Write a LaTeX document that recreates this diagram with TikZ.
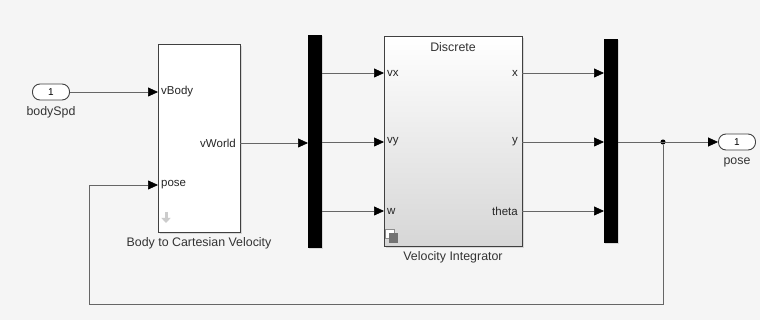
\documentclass[tikz,border=0pt]{standalone}
\usepackage{fontspec}
\setmainfont{Liberation Sans}
\usetikzlibrary{arrows.meta,positioning,shadows}

\begin{document}
\begin{tikzpicture}[x=1pt,y=-1pt,
    sig/.style={draw=black!60,line width=0.7pt,-{Triangle[length=10pt,width=9pt,fill=black,color=black]}},
    blk/.style={draw=black!75,line width=0.9pt,fill=white,anchor=north west,inner sep=0pt,
        drop shadow={shadow xshift=1.2pt,shadow yshift=-1.2pt,opacity=0.25}},
    bar/.style={fill=black,anchor=north west,inner sep=0pt,minimum width=14pt,minimum height=213pt,
        drop shadow={shadow xshift=1pt,shadow yshift=-1pt,opacity=0.25}},
    port/.style={draw=black!75,line width=0.9pt,fill=white,rounded corners=7.5pt,minimum width=37pt,
        minimum height=16pt,inner sep=0pt,font=\fontsize{10}{11}\selectfont},
    pin/.style={anchor=west,inner sep=3pt,font=\fontsize{11.5}{12}\selectfont,text=black!85},
    pout/.style={anchor=east,inner sep=4pt,font=\fontsize{11.5}{12}\selectfont,text=black!85},
    lbl/.style={font=\fontsize{12.4}{14}\selectfont,text=black!80,inner sep=0pt}]
\useasboundingbox (0,0) rectangle (760,320);
\fill[gray!8] (0,0) rectangle (760,320);

% inport and outport
\node[port] (bodySpd) at (51,92) {1};
\node[lbl] at (51,112) {bodySpd};
\node[port] (pose) at (737,142) {1};
\node[lbl] at (737,162) {pose};

% body to cartesian velocity
\node[blk,minimum width=82pt,minimum height=188pt] (body) at (158,44) {};
\node[lbl] at (199,243) {Body to Cartesian Velocity};
\node[pin] (vBody) at (158,92) {vBody};
\node[pin] (bpose) at (158,185) {pose};
\node[pout] (vWorld) at (240,143) {vWorld};
\draw[gray!40,line width=3pt,-{Triangle[length=5pt,width=9pt]}] (166,212) -- (166,223);

% demux
\node[bar] (demux) at (308,35) {};

% velocity integrator
\node[blk,minimum width=138pt,minimum height=210pt,top color=white,bottom color=gray!32] (integ) at (384,36) {};
\node[lbl] at (453,47) {Discrete};
\node[lbl] at (453,257) {Velocity Integrator};
\node[pin] (vx) at (384,73) {vx};
\node[pin] (vy) at (384,142) {vy};
\node[pin] (w) at (384,211) {w};
\node[pout] (ox) at (522,73) {x};
\node[pout] (oy) at (522,142) {y};
\node[pout] (otheta) at (522,211) {theta};
\draw[black!45,fill=white,line width=0.8pt] (385,229) rectangle (394,238);
\fill[black!55] (389,233) rectangle (398,243);

% mux
\node[bar,minimum height=204pt] (mux) at (604,39) {};
\node[circle,fill=black,inner sep=1.8pt] (jn) at (663,142) {};

% signals
\draw[sig] (bodySpd.east) -- (vBody.west);
\draw[sig] (vWorld.east) -- (demux.west |- vWorld.east);
\draw[sig] (demux.east |- vx) -- (vx.west);
\draw[sig] (demux.east |- vy) -- (vy.west);
\draw[sig] (demux.east |- w) -- (w.west);
\draw[sig] (ox.east) -- (mux.west |- ox.east);
\draw[sig] (oy.east) -- (mux.west |- oy.east);
\draw[sig] (otheta.east) -- (mux.west |- otheta.east);
\draw[sig] (mux.east |- jn) -- (pose.west);
\draw[sig] (jn) -- ++(0,162) -| ([xshift=-69pt]bpose.west) -- (bpose.west);
\end{tikzpicture}
\end{document}
